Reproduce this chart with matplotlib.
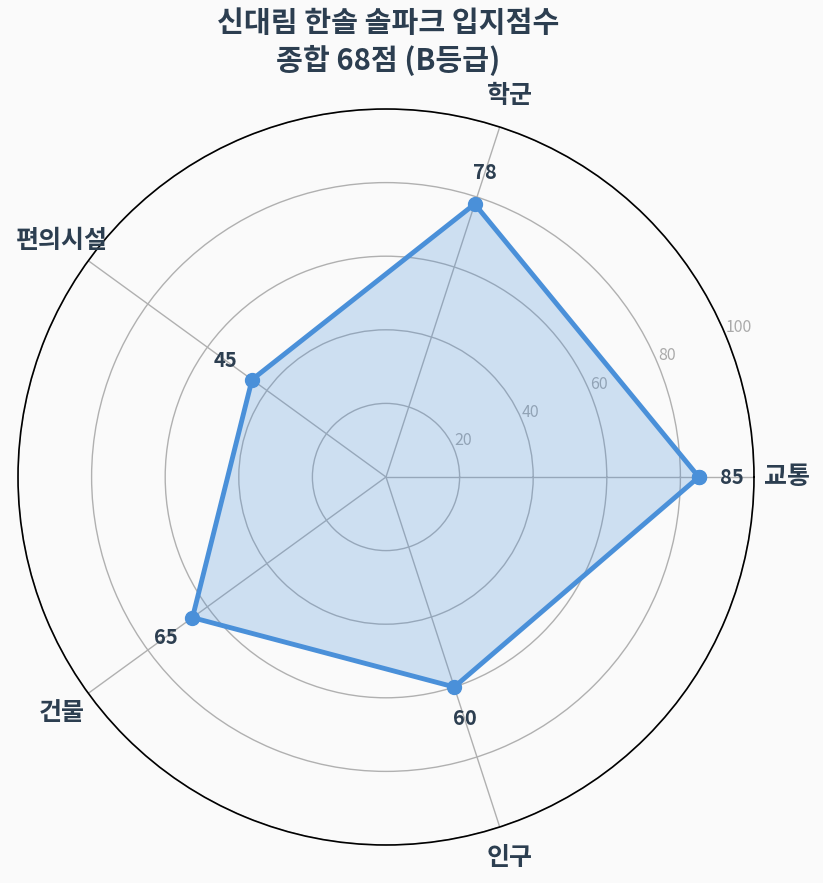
import numpy as np
import matplotlib
matplotlib.use('Agg')
import matplotlib.pyplot as plt

plt.rcParams['font.family'] = ['Noto Sans CJK KR', 'DejaVu Sans']

# 입지점수 데이터
categories = ['교통', '학군', '편의시설', '건물', '인구']
scores = [85, 78, 45, 65, 60]
rticks = [20, 40, 60, 80, 100]
title = '신대림 한솔 솔파크 입지점수\n종합 68점 (B등급)'

text_color = '#2c3e50'
line_color = '#4a90d9'
bg = '#fafafa'

n = len(categories)
angles = np.linspace(0, 2 * np.pi, n, endpoint=False)
closed_angles = np.append(angles, angles[0])
closed_scores = scores + scores[:1]

fig = plt.figure(figsize=(8.23, 8.83), dpi=100, facecolor=bg)
ax = fig.add_axes([18 / 823, 1 - 845 / 883, 736 / 823, 736 / 883], polar=True)
ax.set_facecolor(bg)

ax.fill(closed_angles, closed_scores, color=line_color, alpha=0.25, zorder=2)
ax.plot(closed_angles, closed_scores, color=line_color, linewidth=3.5,
        marker='o', markersize=10, zorder=3)

ax.set_ylim(0, 100)
ax.set_yticks(rticks)
ax.set_yticklabels([str(t) for t in rticks], color='#aaaaaa', fontsize=11.5)
ax.set_rlabel_position(22.5)
ax.set_xticks(angles)
ax.set_xticklabels([])
ax.grid(True, color='#b0b0b0', linewidth=1)
ax.spines['polar'].set_color('black')
ax.spines['polar'].set_linewidth(1.2)

# 축 이름
for a, c in zip(angles, categories):
    ax.text(a, 109, c, ha='center', va='center', fontsize=18,
            fontweight='bold', color=text_color, clip_on=False)

# 값 표시
for a, s in zip(angles, scores):
    ax.text(a, s + 9, str(s), ha='center', va='center', fontsize=14.5,
            fontweight='bold', color=text_color, zorder=4)

fig.text(388 / 823, 1 - 42 / 883, title, ha='center', va='center',
         fontsize=21, fontweight='bold', color=text_color, linespacing=1.25)

plt.savefig('out.png', dpi=100, facecolor=bg)
